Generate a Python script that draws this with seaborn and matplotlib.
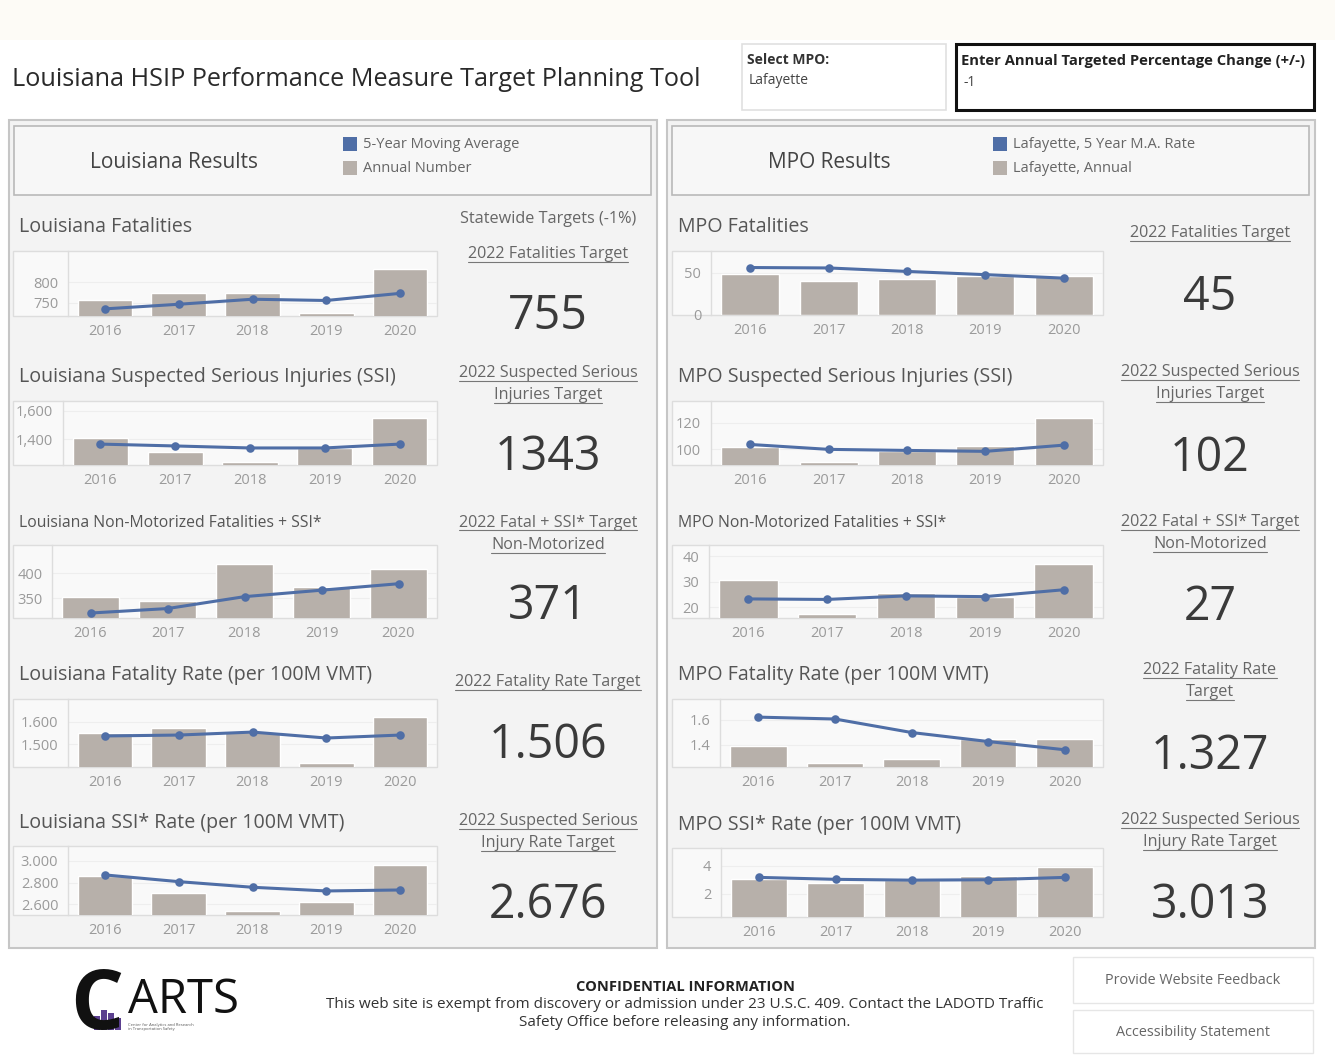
import numpy as np
import pandas as pd
import matplotlib
matplotlib.use("Agg")
import matplotlib.pyplot as plt
import seaborn as sns
from matplotlib.patches import Rectangle
from matplotlib.lines import Line2D

# ---------------- data ----------------
years = ["2016", "2017", "2018", "2019", "2020"]

la_fat_annual = [757, 775, 775, 727, 831]
la_fat_ma = [736, 747, 759, 756, 773]
la_ssi_annual = [1407, 1314, 1240, 1341, 1546]
la_ssi_ma = [1367, 1354, 1340, 1340, 1367]
la_nm_annual = [352, 345, 419, 373, 408]
la_nm_ma = [320, 329, 353, 366, 379]
la_frate_annual = [1.549, 1.571, 1.553, 1.417, 1.618]
la_frate_ma = [1.537, 1.541, 1.554, 1.528, 1.541]
la_srate_annual = [2.865, 2.702, 2.538, 2.621, 2.963]
la_srate_ma = [2.871, 2.809, 2.757, 2.723, 2.732]

mpo_fat_annual = [48, 40.5, 42.6, 46, 45.7]
mpo_fat_ma = [56, 55.5, 51.4, 47.6, 43.5]
mpo_ssi_annual = [102, 90.3, 98.7, 102.7, 123.3]
mpo_ssi_ma = [103.7, 100, 99.2, 98.5, 103.2]
mpo_nm_annual = [30.8, 17.2, 25.6, 24.2, 37.1]
mpo_nm_ma = [23.3, 23.1, 24.5, 24.2, 26.9]
mpo_frate_annual = [1.387, 1.254, 1.286, 1.446, 1.448]
mpo_frate_ma = [1.621, 1.606, 1.498, 1.426, 1.36]
mpo_srate_annual = [3.03, 2.78, 2.97, 3.27, 3.9]
mpo_srate_ma = [3.17, 3.03, 2.97, 3.0, 3.17]

la_titles = ["Louisiana Fatalities", "Louisiana Suspected Serious Injuries (SSI)",
             "Louisiana Non-Motorized Fatalities + SSI*", "Louisiana Fatality Rate (per 100M VMT)",
             "Louisiana SSI* Rate (per 100M VMT)"]
mpo_titles = ["MPO Fatalities", "MPO Suspected Serious Injuries (SSI)",
              "MPO Non-Motorized Fatalities + SSI*", "MPO Fatality Rate (per 100M VMT)",
              "MPO SSI* Rate (per 100M VMT)"]
la_target_labels = [["2022 Fatalities Target"], ["2022 Suspected Serious", "Injuries Target"],
                    ["2022 Fatal + SSI* Target", "Non-Motorized"], ["2022 Fatality Rate Target"],
                    ["2022 Suspected Serious", "Injury Rate Target"]]
mpo_target_labels = [["2022 Fatalities Target"], ["2022 Suspected Serious", "Injuries Target"],
                     ["2022 Fatal + SSI* Target", "Non-Motorized"], ["2022 Fatality Rate", "Target"],
                     ["2022 Suspected Serious", "Injury Rate Target"]]
la_target_values = ["755", "1343", "371", "1.506", "2.676"]
mpo_target_values = ["45", "102", "27", "1.327", "3.013"]

la_yticks = [[750, 800], [1400, 1600], [350, 400], [1.5, 1.6], [2.6, 2.8, 3.0]]
la_yticklabels = [["750", "800"], ["1,400", "1,600"], ["350", "400"], ["1.500", "1.600"],
                  ["2.600", "2.800", "3.000"]]
mpo_yticks = [[0, 50], [100, 120], [20, 30, 40], [1.4, 1.6], [2, 4]]
mpo_yticklabels = [["0", "50"], ["100", "120"], ["20", "30", "40"], ["1.4", "1.6"], ["2", "4"]]

# ---------------- style ----------------
W, H = 1335, 1057
BAR = "#b7b0aa"
BLUE = "#4f6ea6"
FONT = ["Open Sans", "DejaVu Sans"]

sns.set_theme(style="white")
plt.rcParams["font.family"] = FONT

fig = plt.figure(figsize=(W / 100, H / 100), dpi=100)
fig.patch.set_facecolor("white")


def frect(x0, y0, x1, y1, **kw):
    r = Rectangle((x0 / W, 1 - y1 / H), (x1 - x0) / W, (y1 - y0) / H,
                  transform=fig.transFigure, **kw)
    fig.patches.append(r)
    return r


def ftext(x, y, s, **kw):
    kw.setdefault("va", "center")
    return fig.text(x / W, 1 - y / H, s, **kw)


# background elements
frect(0, 0, W, 40, facecolor="#fdfbf6", edgecolor="none", zorder=0)
frect(9, 120, 657, 948, facecolor="#f3f3f3", edgecolor="#c6c6c6", lw=1.5, zorder=0)
frect(667, 120, 1315, 948, facecolor="#f3f3f3", edgecolor="#c6c6c6", lw=1.5, zorder=0)
frect(14, 126, 651, 195, facecolor="#f7f7f7", edgecolor="#b9b9b9", lw=1.2, zorder=1)
frect(672, 126, 1309, 195, facecolor="#f7f7f7", edgecolor="#b9b9b9", lw=1.2, zorder=1)

# title and selectors
ftext(12, 79, "Louisiana HSIP Performance Measure Target Planning Tool", fontsize=18.2, color="#2a2a2a")
frect(742, 44, 946, 110, facecolor="white", edgecolor="#e0e0e0", lw=1.2, zorder=1)
ftext(747, 60, "Select MPO:", fontsize=10, color="#333333", fontweight="bold")
ftext(749, 80, "Lafayette", fontsize=10, color="#444444")
frect(956, 44, 1314, 110, facecolor="white", edgecolor="#111111", lw=2.2, zorder=1)
ftext(961, 61, "Enter Annual Targeted Percentage Change (+/-)", fontsize=10.6, color="#222222",
      fontweight="bold")
ftext(963, 82, "-1", fontsize=10, color="#444444")

# panel headers and legends
ftext(174, 162, "Louisiana Results", fontsize=15, color="#444444", ha="center")
ftext(829, 162, "MPO Results", fontsize=15, color="#444444", ha="center")
for lx, lab1, lab2 in [(343, "5-Year Moving Average", "Annual Number"),
                       (993, "Lafayette, 5 Year M.A. Rate", "Lafayette, Annual")]:
    frect(lx, 137, lx + 14, 151, facecolor=BLUE, edgecolor="none", zorder=2)
    frect(lx, 161, lx + 14, 175, facecolor=BAR, edgecolor="none", zorder=2)
    ftext(lx + 20, 144, lab1, fontsize=10.5, color="#666666")
    ftext(lx + 20, 168, lab2, fontsize=10.5, color="#666666")

# ---------------- charts ----------------
la_boxes = [(68, 251, 437, 316), (63, 401, 437, 465), (52, 545, 437, 618),
            (68, 699, 437, 767), (68, 846, 437, 915)]
la_ylims = [(719, 874), (1221, 1668), (310, 457), (1.401, 1.699), (2.501, 3.138)]
mpo_boxes = [(711, 251, 1103, 315), (711, 401, 1103, 465), (709, 545, 1103, 618),
             (720, 699, 1103, 767), (721, 848, 1103, 917)]
mpo_ylims = [(0, 75.5), (88.2, 136.5), (15.8, 44.5), (1.222, 1.766), (0.3, 5.3)]

la_series = [(la_fat_annual, la_fat_ma), (la_ssi_annual, la_ssi_ma), (la_nm_annual, la_nm_ma),
             (la_frate_annual, la_frate_ma), (la_srate_annual, la_srate_ma)]
mpo_series = [(mpo_fat_annual, mpo_fat_ma), (mpo_ssi_annual, mpo_ssi_ma), (mpo_nm_annual, mpo_nm_ma),
              (mpo_frate_annual, mpo_frate_ma), (mpo_srate_annual, mpo_srate_ma)]


def chart(box, outer_left, ylim, ticks, ticklabels, annual, ma):
    x0, y0, x1, y1 = box
    frect(outer_left, y0, x1, y1, facecolor="#f9f9f9", edgecolor="#dddddd", lw=1.0, zorder=1)
    ax = fig.add_axes([x0 / W, 1 - y1 / H, (x1 - x0) / W, (y1 - y0) / H])
    ax.set_zorder(5)
    ax.set_facecolor("none")
    df = pd.DataFrame({"Year": years, "Annual": annual, "MA": ma})
    sns.barplot(data=df, x="Year", y="Annual", ax=ax, color=BAR, saturation=1, width=0.74,
                errorbar=None, zorder=2)
    sns.pointplot(data=df, x="Year", y="MA", ax=ax, color=BLUE, errorbar=None,
                  markersize=4.5, linewidth=2.2, zorder=3)
    ax.set_xlim(-0.5, 4.5)
    ax.set_ylim(*ylim)
    ax.set_yticks(ticks)
    ax.set_yticklabels(ticklabels)
    ax.set_xlabel("")
    ax.set_ylabel("")
    ax.tick_params(axis="both", length=0, labelsize=10.5, colors="#9a9a9a")
    ax.tick_params(axis="x", pad=6)
    ax.tick_params(axis="y", pad=7)
    ax.grid(axis="y", color="#eeeeee", lw=0.8)
    ax.set_axisbelow(True)
    for s in ["top", "right", "bottom"]:
        ax.spines[s].set_visible(False)
    ax.spines["left"].set_color("#dddddd")
    ax.spines["left"].set_linewidth(1.0)
    return ax


for i in range(5):
    chart(la_boxes[i], 13, la_ylims[i], la_yticks[i], la_yticklabels[i], *la_series[i])
    chart(mpo_boxes[i], 672, mpo_ylims[i], mpo_yticks[i], mpo_yticklabels[i], *mpo_series[i])

# chart titles
la_title_y = [227, 377, 523, 675, 823]
mpo_title_y = [227, 377, 523, 675, 825]
title_sizes = [14.1, 14.1, 11.3, 14.1, 14.1]
for i in range(5):
    ftext(19, la_title_y[i], la_titles[i], fontsize=title_sizes[i], color="#555555")
    ftext(678, mpo_title_y[i], mpo_titles[i], fontsize=title_sizes[i], color="#555555")

# targets
ftext(548, 219, "Statewide Targets (-1%)", fontsize=11.7, color="#666666", ha="center")
la_label_y = [[254], [373, 395], [523, 545], [682], [821, 843]]
mpo_label_y = [[233], [372, 394], [522, 544], [670, 692], [820, 842]]
la_value_y = [316, 457, 606, 745, 905]
mpo_value_y = [297, 458, 607, 756, 905]

underlined = []
for cx, labels, label_y, values, value_y in [
        (548, la_target_labels, la_label_y, la_target_values, la_value_y),
        (1210, mpo_target_labels, mpo_label_y, mpo_target_values, mpo_value_y)]:
    for i in range(5):
        for s, yy in zip(labels[i], label_y[i]):
            underlined.append(ftext(cx, yy, s, fontsize=11.6, color="#666666", ha="center"))
        ftext(cx, value_y[i], values[i], fontsize=33.5, color="#3a3a3a", ha="center")

renderer = fig.canvas.get_renderer()
for t in underlined:
    bb = t.get_window_extent(renderer=renderer)
    fig.lines.append(Line2D([bb.x0 / W, bb.x1 / W], [(bb.y0 + 0.5) / H] * 2,
                            transform=fig.transFigure, color="#777777", lw=0.8))

# ---------------- footer ----------------
ftext(97, 1008, "C", fontsize=60, color="#111111", ha="center", fontweight="bold")
ftext(183, 1000, "ARTS", fontsize=34, color="#111111", ha="center")
for bx, bh in [(94, 14), (101, 20), (108, 17), (115, 12)]:
    frect(bx, 1030 - bh, bx + 6, 1030, facecolor="#5b3f8f", edgecolor="none", zorder=2)
ftext(128, 1027, "Center for Analytics and Research\nin Transportation Safety", fontsize=3,
      color="#555555", linespacing=1.0)

ftext(685, 987, "CONFIDENTIAL INFORMATION", fontsize=10.5, color="#222222", ha="center",
      fontweight="bold")
ftext(685, 1005, "This web site is exempt from discovery or admission under 23 U.S.C. 409. "
      "Contact the LADOTD Traffic", fontsize=11, color="#333333", ha="center")
ftext(685, 1022, "Safety Office before releasing any information.", fontsize=11,
      color="#333333", ha="center")

frect(1073, 957, 1313, 1003, facecolor="white", edgecolor="#e6e6e6", lw=1.0, zorder=1)
frect(1073, 1010, 1313, 1053, facecolor="white", edgecolor="#e6e6e6", lw=1.0, zorder=1)
ftext(1193, 980, "Provide Website Feedback", fontsize=10.4, color="#666666", ha="center")
ftext(1193, 1032, "Accessibility Statement", fontsize=10.4, color="#666666", ha="center")

fig.savefig("out.png", dpi=100, facecolor="white")
